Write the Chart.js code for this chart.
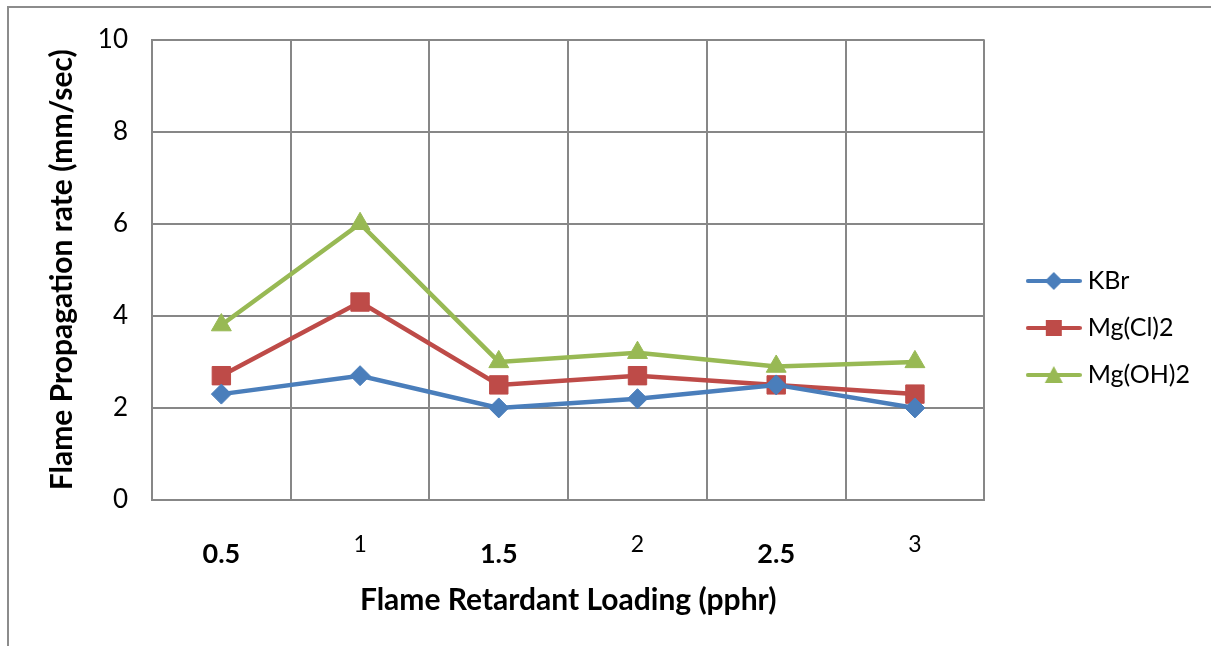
<!DOCTYPE html>
<html>
<head>
<meta charset="utf-8">
<script src="https://cdn.jsdelivr.net/npm/chart.js@4/dist/chart.umd.min.js"></script>
<style>
  body { margin: 0; background: #fff; }
  #wrap { position: relative; width: 1211px; height: 646px; overflow: hidden; }
  #frame { position: absolute; left: 7px; top: 6px; width: 1300px; height: 700px;
           border-left: 2px solid #8c8c8c; border-top: 2px solid #8c8c8c; pointer-events: none; }
</style>
</head>
<body>
<div id="wrap">
  <canvas id="chart" width="1211" height="646"></canvas>
  <div id="frame"></div>
</div>
<script>
const loadings = ['0.5', '1', '1.5', '2', '2.5', '3'];
const kbr = [2.3, 2.7, 2.0, 2.2, 2.5, 2.0];
const mgCl2 = [2.7, 4.3, 2.5, 2.7, 2.5, 2.3];
const mgOH2 = [3.8, 6.0, 3.0, 3.2, 2.9, 3.0];
const yTicks = [0, 2, 4, 6, 8, 10];

const BLUE = '#4a7ebb';
const RED = '#be4b48';
const GREEN = '#98b954';
const GRID = '#878787';
const FONT = 'Lato';

// legend symbol: short line with the marker in the middle
function legendIcon(color, style) {
  const c = document.createElement('canvas');
  c.width = 56; c.height = 22;
  const ctx = c.getContext('2d');
  ctx.strokeStyle = color;
  ctx.lineWidth = 4;
  ctx.lineCap = 'round';
  ctx.beginPath();
  ctx.moveTo(2, 11); ctx.lineTo(54, 11);
  ctx.stroke();
  ctx.fillStyle = color;
  ctx.beginPath();
  if (style === 'diamond') {
    ctx.moveTo(28, 2); ctx.lineTo(37, 11); ctx.lineTo(28, 20); ctx.lineTo(19, 11);
  } else if (style === 'square') {
    ctx.rect(20, 3, 16, 16);
  } else {
    ctx.moveTo(28, 2); ctx.lineTo(37, 19); ctx.lineTo(19, 19);
  }
  ctx.closePath();
  ctx.fill();
  return c;
}

const icons = [legendIcon(BLUE, 'diamond'), legendIcon(RED, 'square'), legendIcon(GREEN, 'triangle')];

function draw() {
  new Chart(document.getElementById('chart'), {
    type: 'line',
    data: {
      labels: loadings,
      datasets: [
        { label: 'KBr', data: kbr, borderColor: BLUE, backgroundColor: BLUE, borderWidth: 4.5,
          pointStyle: 'rectRot', pointRadius: 10, pointBorderWidth: 1, tension: 0 },
        { label: 'Mg(Cl)2', data: mgCl2, borderColor: RED, backgroundColor: RED, borderWidth: 4.5,
          pointStyle: 'rect', pointRadius: 13, pointBorderWidth: 1, tension: 0 },
        { label: 'Mg(OH)2', data: mgOH2, borderColor: GREEN, backgroundColor: GREEN, borderWidth: 4.5,
          pointStyle: 'triangle', pointRadius: 11.5, pointBorderWidth: 1, tension: 0 }
      ]
    },
    options: {
      responsive: false,
      animation: false,
      layout: { padding: { top: 36, right: 11, bottom: 26, left: 0 } },
      plugins: {
        tooltip: { enabled: false },
        legend: {
          position: 'right',
          labels: {
            usePointStyle: true,
            pointStyleWidth: 43,
            padding: 22,
            color: '#000',
            font: { family: FONT, size: 25 },
            generateLabels(chart) {
              const items = Chart.defaults.plugins.legend.labels.generateLabels(chart);
              items.forEach((it, i) => { it.pointStyle = icons[i]; });
              return items;
            }
          }
        }
      },
      scales: {
        x: {
          offset: true,
          grid: { offset: true, color: GRID, lineWidth: 2, drawTicks: false },
          border: { color: GRID, width: 2 },
          ticks: {
            padding: 30,
            color: '#000',
            maxRotation: 0,
            font: (ctx) => ctx.index % 2 === 0
              ? { family: FONT, size: 27, weight: 'bold', lineHeight: '48px' }
              : { family: FONT, size: 23, weight: 'normal', lineHeight: '29px' }
          },
          title: {
            display: true,
            text: 'Flame Retardant Loading (pphr)',
            color: '#000',
            font: { family: FONT, size: 30, weight: 'bold' },
            padding: { top: 0, bottom: 2 }
          },
          afterFit(s) { s.height = 120; }
        },
        y: {
          min: 0,
          max: 10,
          afterBuildTicks(s) { s.ticks = yTicks.map(v => ({ value: v })); },
          grid: { color: GRID, lineWidth: 2, drawTicks: false },
          border: { color: GRID, width: 2 },
          ticks: { padding: 24, color: '#000', font: { family: FONT, size: 26 } },
          title: {
            display: true,
            text: 'Flame Propagation rate (mm/sec)',
            color: '#000',
            font: { family: FONT, size: 30, weight: 'bold' },
            padding: { top: 44, bottom: 0 }
          },
          afterFit(s) { s.width = 152; }
        },
        gap: {
          position: 'right',
          grid: { display: false, drawTicks: false },
          border: { display: false },
          ticks: { display: false },
          afterFit(s) { s.width = 26; }
        }
      }
    }
  });
}

Promise.all([
  document.fonts.load('23px Lato'),
  document.fonts.load('bold 24px Lato')
]).then(draw, draw);
</script>
</body>
</html>
